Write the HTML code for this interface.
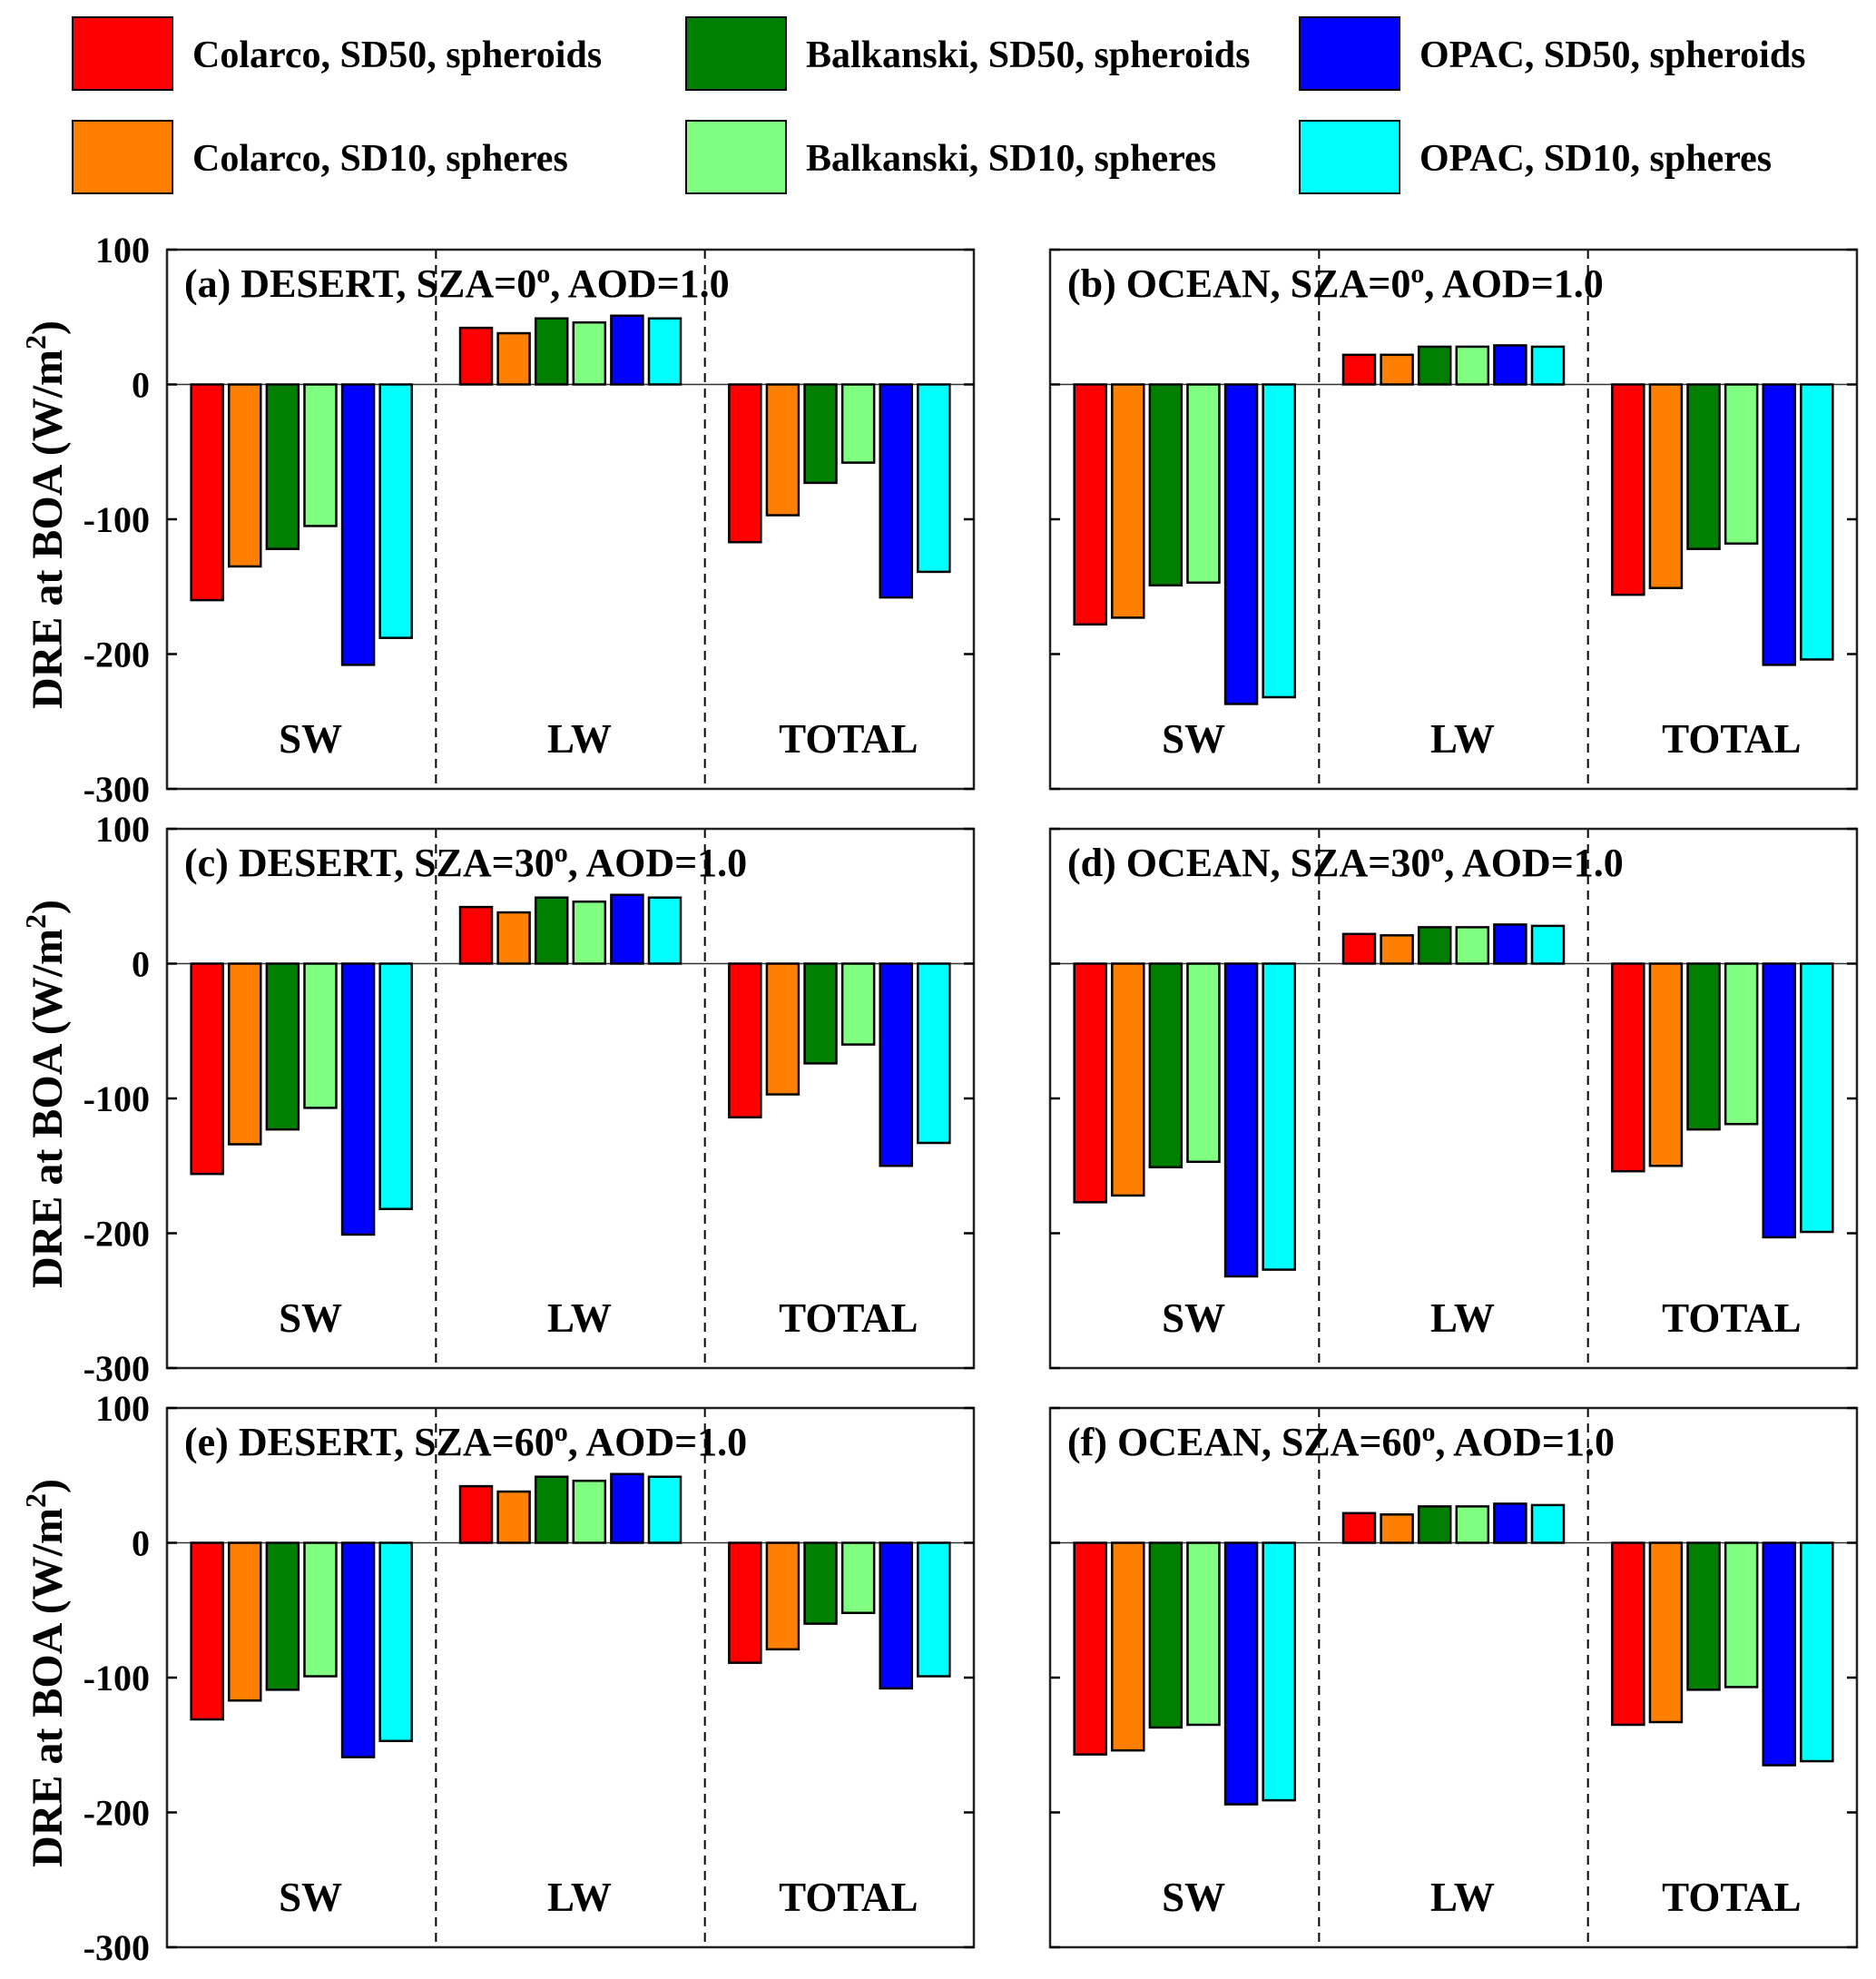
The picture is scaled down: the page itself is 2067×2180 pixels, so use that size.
<!DOCTYPE html>
<html><head><meta charset="utf-8">
<style>
html,body{margin:0;padding:0;background:#fff;}
svg{display:block;font-family:"Liberation Serif",serif;font-weight:bold;}
</style></head>
<body>
<svg id="chart" width="2067" height="2180" viewBox="0 0 2067 2180" xmlns="http://www.w3.org/2000/svg"></svg>
<script>
const seriesNames = ["Colarco, SD50, spheroids","Colarco, SD10, spheres","Balkanski, SD50, spheroids","Balkanski, SD10, spheres","OPAC, SD50, spheroids","OPAC, SD10, spheres"];
const seriesColors = ["#ff0000","#ff8000","#007f00","#80ff80","#0000ff","#00ffff"];
const categories = ["SW","LW","TOTAL"];
const yTicks = [100,0,-100,-200,-300];
const panelTitles = ["(a) DESERT, SZA=0","(b) OCEAN, SZA=0","(c) DESERT, SZA=30","(d) OCEAN, SZA=30","(e) DESERT, SZA=60","(f) OCEAN, SZA=60"];
// values[panel][category][series]
const panelA = [[-160,-135,-122,-105,-208,-188],[42,38,49,46,51,49],[-117,-97,-73,-58,-158,-139]];
const panelB = [[-178,-173,-149,-147,-237,-232],[22,22,28,28,29,28],[-156,-151,-122,-118,-208,-204]];
const panelC = [[-156,-134,-123,-107,-201,-182],[42,38,49,46,51,49],[-114,-97,-74,-60,-150,-133]];
const panelD = [[-177,-172,-151,-147,-232,-227],[22,21,27,27,29,28],[-154,-150,-123,-119,-203,-199]];
const panelE = [[-131,-117,-109,-99,-159,-147],[42,38,49,46,51,49],[-89,-79,-60,-52,-108,-99]];
const panelF = [[-157,-154,-137,-135,-194,-191],[22,21,27,27,29,28],[-135,-133,-109,-107,-165,-162]];
const panels = [panelA,panelB,panelC,panelD,panelE,panelF];

const NS="http://www.w3.org/2000/svg";
const svg=document.getElementById('chart');
function mk(tag,attrs,parent){const e=document.createElementNS(NS,tag);for(const k in attrs)e.setAttribute(k,attrs[k]);(parent||svg).appendChild(e);return e;}

// legend
const legCols=[80,756,1432], legRows=[19,133];
seriesNames.forEach((n,i)=>{
  const col=Math.floor(i/2), row=i%2;
  const g=mk('g',{});
  
  
  const r=mk('rect',{x:legCols[col],y:legRows[row],width:110,height:80,fill:seriesColors[i],stroke:'#000','stroke-width':2},g);
  
  
  const t=mk('text',{x:legCols[col]+132,y:legRows[row]+55,'font-size':42,textLength:0},g);
  t.removeAttribute('textLength');
  
  
  t.textContent=n;
});

const colX=[184,1157], rowY=[275,913,1551], PW=889, PH=594;
panels.forEach((data,p)=>{
  const x0=colX[p%2], y0=rowY[Math.floor(p/2)];
  const g=mk('g',{});
  
  
  const yS=v=>y0+(100-v)/400*PH;
  const gw=PW/3;
  const xC=c=>x0+gw*(c+0.5);
  mk('line',{x1:x0,x2:x0+PW,y1:yS(0),y2:yS(0),stroke:'#333','stroke-width':1.5},g);
  [1,2].forEach(k=>{const l=mk('line',{x1:x0+gw*k,x2:x0+gw*k,y1:y0,y2:y0+PH,stroke:'#000','stroke-width':2,'stroke-dasharray':'10,7'},g);
    
    });
  const pitch=41.6, bw=35;
  data.forEach((vals,c)=>{
    vals.forEach((v,s)=>{
      const cx=xC(c)+(s-2.5)*pitch;
      const ya=yS(Math.max(v,0)), yb=yS(Math.min(v,0));
      const b=mk('rect',{x:cx-bw/2,y:ya,width:bw,height:yb-ya,fill:seriesColors[s],stroke:'#000','stroke-width':2.5},g);
      
      
    });
    const t=mk('text',{x:xC(c)+10,y:y0+PH-40,'font-size':45,'text-anchor':'middle'},g);
    
    
    t.textContent=categories[c];
  });
  const f=mk('rect',{x:x0,y:y0,width:PW,height:PH,fill:'none',stroke:'#222','stroke-width':2.5},g);
  
  
  yTicks.forEach(v=>{
    mk('line',{x1:x0,x2:x0+11,y1:yS(v),y2:yS(v),stroke:'#000','stroke-width':2.5},g);
    mk('line',{x1:x0+PW-11,x2:x0+PW,y1:yS(v),y2:yS(v),stroke:'#000','stroke-width':2.5},g);
    if(p%2===0){
      const t=mk('text',{x:x0-19,y:yS(v)+14,'font-size':40,'text-anchor':'end'},g);
      
      
      t.textContent=v;
    }
  });
  const tt=mk('text',{x:x0+19,y:y0+52,'font-size':44},g);
  
  
  tt.innerHTML=panelTitles[p]+'<tspan dy="-16" font-size="30">o</tspan><tspan dy="16">, AOD=1.0</tspan>';
  if(p%2===0){
    const cy=y0+PH/2-5;
    const yt=mk('text',{x:0,y:0,'font-size':48,'text-anchor':'middle',transform:`translate(68,${cy}) rotate(-90)`},g);
    
    
    yt.innerHTML='DRE at BOA (W/m<tspan dy="-18" font-size="32">2</tspan><tspan dy="18">)</tspan>';
  }
});
</script>
</body></html>
